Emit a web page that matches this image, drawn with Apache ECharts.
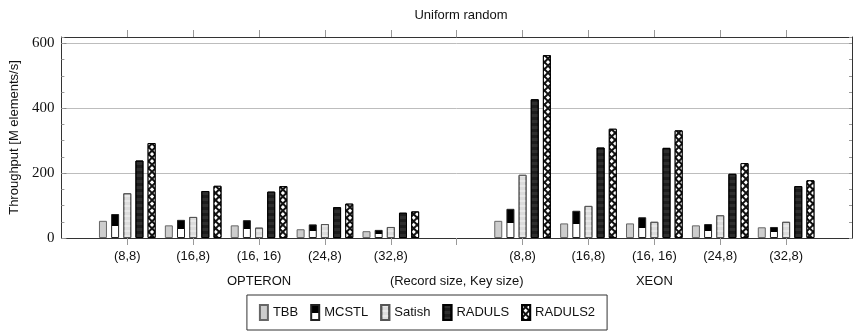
<!DOCTYPE html>
<html>
<head>
<meta charset="utf-8">
<script src="https://cdn.jsdelivr.net/npm/echarts@6/dist/echarts.min.js"></script>
<style>
  html, body { margin: 0; padding: 0; background: #fff; }
  #chart { width: 854px; height: 332px; }
</style>
</head>
<body>
<div id="chart"></div>
<script>
// categories: (record size, key size) per machine, empty slot in the middle
const categories = ['(8,8)', '(16,8)', '(16, 16)', '(24,8)', '(32,8)', '', '(8,8)', '(16,8)', '(16, 16)', '(24,8)', '(32,8)'];
const groupLabels = ['', '', 'OPTERON', '', '', '(Record size, Key size)', '', '', 'XEON', '', ''];
const yTicks = [0, 200, 400, 600];

const tbb = [53, 39, 39, 27, 21, null, 53, 45, 45, 39, 33];
const mcstl = [74, 56, 55, 42, 25, null, 90, 84, 64, 43, 34];
const satish = [138, 65, 32, 43, 34, null, 195, 99, 50, 70, 50];
const raduls = [239, 145, 143, 95, 78, null, 428, 279, 278, 198, 160];
const raduls2 = [293, 161, 160, 106, 82, null, 564, 337, 332, 231, 178];

const sans = 'Liberation Sans';
const serif = 'Liberation Serif';
const frame = '#333';
const tickPos = categories.map((c, i) => i);

function pairs(list) {
  return list.map((v, i) => [i, v]).filter(p => p[1] !== null);
}

function bar(name, list, itemStyle) {
  return {
    name: name,
    type: 'bar',
    barWidth: 8,
    barGap: '52%',
    data: pairs(list),
    itemStyle: itemStyle,
    emphasis: {disabled: true}
  };
}

const myChart = echarts.init(document.getElementById('chart'));
const option = {
  animation: false,
  title: {
    text: 'Uniform random',
    left: 456,
    textAlign: 'center',
    top: 4,
    textStyle: {fontFamily: sans, fontSize: 13, fontWeight: 'normal', color: '#111'}
  },
  legend: {
    bottom: 2,
    left: 'center',
    icon: 'rect',
    itemWidth: 8,
    itemHeight: 15,
    itemGap: 12,
    padding: [9, 12],
    borderColor: frame,
    borderWidth: 1,
    backgroundColor: '#fff',
    textStyle: {fontFamily: sans, fontSize: 13, color: '#111'},
    data: ['TBB', 'MCSTL', 'Satish', 'RADULS', 'RADULS2']
  },
  grid: {left: 60, right: 2, top: 37, bottom: 94},
  xAxis: [
    {
      type: 'value',
      min: -1,
      max: 11,
      interval: 1,
      axisLine: {show: true, onZero: false, lineStyle: {color: frame}},
      axisTick: {show: true, inside: false, length: 7, customValues: tickPos, lineStyle: {color: '#999'}},
      axisLabel: {
        customValues: tickPos,
        margin: 6,
        fontFamily: sans,
        fontSize: 13,
        color: '#111',
        lineHeight: 25,
        formatter: v => (categories[v] || ' ') + '\n' + (groupLabels[v] || ' ')
      },
      splitLine: {show: false}
    },
    {
      type: 'value',
      position: 'top',
      min: -1,
      max: 11,
      interval: 1,
      axisLine: {show: true, onZero: false, lineStyle: {color: frame}},
      axisTick: {show: true, inside: false, length: 7, customValues: tickPos, lineStyle: {color: '#999'}},
      axisLabel: {show: false},
      splitLine: {show: false}
    }
  ],
  yAxis: [
    {
      type: 'value',
      name: 'Throughput [M elements/s]',
      nameLocation: 'middle',
      nameGap: 31,
      nameTextStyle: {fontFamily: sans, fontSize: 13, color: '#111'},
      min: 0,
      max: 620,
      interval: 200,
      axisLine: {show: true, onZero: false, lineStyle: {color: frame}},
      axisTick: {show: true, inside: true, length: 5, customValues: yTicks, lineStyle: {color: '#888'}},
      axisLabel: {customValues: yTicks, margin: 7, fontFamily: serif, fontSize: 15, color: '#111'},
      splitLine: {show: true, lineStyle: {color: '#bdbdbd', width: 1}}
    },
    {
      type: 'value',
      position: 'left',
      min: 0,
      max: 620,
      interval: 50,
      axisLine: {show: false, onZero: false},
      axisTick: {show: true, inside: true, length: 3, lineStyle: {color: '#999'}},
      axisLabel: {show: false},
      splitLine: {show: false}
    },
    {
      type: 'value',
      position: 'right',
      min: 0,
      max: 620,
      interval: 50,
      axisLine: {show: true, onZero: false, lineStyle: {color: frame}},
      axisTick: {show: true, inside: true, length: 3, lineStyle: {color: '#999'}},
      axisLabel: {show: false},
      splitLine: {show: false}
    }
  ],
  series: [
    bar('TBB', tbb, {color: '#cdcdcd', borderColor: '#666', borderWidth: 1}),
    bar('MCSTL', mcstl, {
      color: {
        type: 'linear', x: 0, y: 0, x2: 0, y2: 1,
        colorStops: [
          {offset: 0, color: '#000'}, {offset: 0.5, color: '#000'},
          {offset: 0.5, color: '#fff'}, {offset: 1, color: '#fff'}
        ]
      },
      borderColor: '#222',
      borderWidth: 1
    }),
    bar('Satish', satish, {
      color: '#dcdcdc',
      borderColor: '#555',
      borderWidth: 1,
      decal: {color: 'rgba(255,255,255,0.35)', symbol: 'rect', dashArrayX: [1, 0], dashArrayY: [2, 3], rotation: 0}
    }),
    bar('RADULS', raduls, {
      color: '#1c1c1c',
      borderColor: '#000',
      borderWidth: 1,
      decal: {color: 'rgba(255,255,255,0.08)', symbol: 'rect', dashArrayX: [1, 0], dashArrayY: [3, 3], rotation: 0}
    }),
    bar('RADULS2', raduls2, {
      color: '#111',
      borderColor: '#000',
      borderWidth: 1,
      decal: {color: '#fff', symbol: 'rect', symbolSize: 1, dashArrayX: [2.4, 1.2], dashArrayY: [2.4, 1.2], rotation: Math.PI / 4}
    })
  ]
};
myChart.setOption(option);
</script>
</body>
</html>
